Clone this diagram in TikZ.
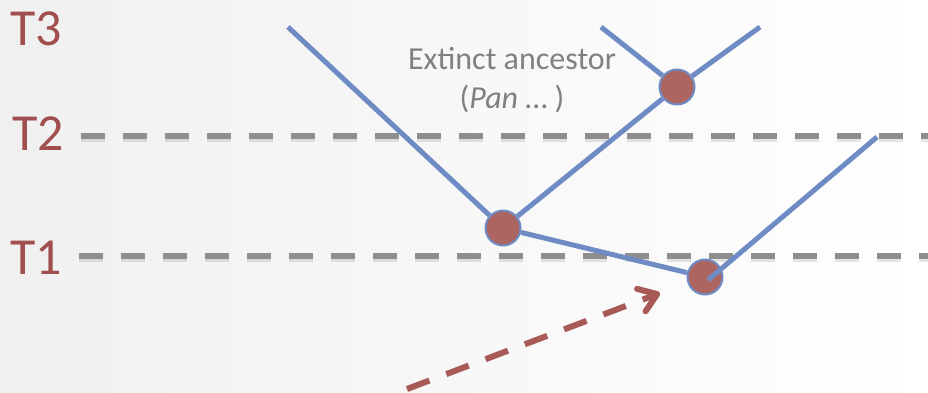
\documentclass[tikz,border=0pt]{standalone}
\usepackage{fontspec}
\setmainfont{Carlito}
\usetikzlibrary{arrows.meta}
\definecolor{timered}{HTML}{A04F4E}
\definecolor{branchblue}{HTML}{6F8BC4}
\definecolor{nodered}{HTML}{AD6562}
\definecolor{levelgray}{HTML}{8E8E8E}
\definecolor{notegray}{HTML}{808080}
\definecolor{arrowred}{HTML}{A85A57}
\tikzset{
  timelabel/.style={text=timered, font=\fontsize{52}{52}\selectfont, inner sep=0pt},
  levelline/.style={draw=levelgray, line width=6pt, dash pattern=on 24pt off 18pt},
  levelshadow/.style={draw=black, opacity=0.10, line width=7pt, dash pattern=on 24pt off 18pt},
  branch/.style={draw=branchblue, line width=5pt},
  ancestor/.style={circle, fill=nodered, draw=branchblue, line width=2pt, minimum size=35pt, inner sep=0pt},
  note/.style={text=notegray, font=\fontsize{32}{39}\selectfont, align=center, inner sep=0pt},
  migration/.style={draw=arrowred, line width=6pt, dash pattern=on 24pt off 18pt,
    -{Straight Barb[length=17pt, width=24pt, round]}},
}
\begin{document}
\begin{tikzpicture}[x=1pt, y=-1pt]
  % page and soft background
  \useasboundingbox (0,0) rectangle (928,392);
  \shade[left color=black!6, right color=white, shading angle=90] (0,0) rectangle (928,392);

  % time labels
  \node[timelabel] (t3) at (36,29) {T3};
  \node[timelabel] (t2) at (38,134) {T2};
  \node[timelabel] (t1) at (36,258) {T1};

  % time levels
  \coordinate (t2s) at (81,136);
  \coordinate (t2e) at (928,136);
  \coordinate (t1s) at (79,256);
  \coordinate (t1e) at (928,256);
  \draw[levelshadow] ([yshift=-2.5pt]t2s) -- ([yshift=-2.5pt]t2e);
  \draw[levelshadow] ([yshift=-2.5pt]t1s) -- ([yshift=-2.5pt]t1e);
  \draw[levelline] (t2s) -- (t2e);
  \draw[levelline] (t1s) -- (t1e);

  % tree nodes and tips
  \coordinate (leftTip) at (288,27);
  \coordinate (midTip) at (601,27);
  \coordinate (rightTip) at (760,27);
  \coordinate (lowTip) at (877,137);
  \node[ancestor] (A) at (503,228) {};
  \node[ancestor] (B) at (677,87) {};
  \node[ancestor] (C) at (705,277) {};

  % branches
  \draw[branch] (leftTip) -- (A);
  \draw[branch] (A) -- (B);
  \draw[branch] (B) -- (midTip);
  \draw[branch] (B) -- (rightTip);
  \draw[branch] (A) -- (C);
  \draw[branch] ([shift={(3pt,-3pt)}]C.center) -- (lowTip);

  % label
  \node[note] (label) at (512,80) {Extinct ancestor\\(\textit{Pan} … )};

  % dashed arrow
  \coordinate (arrowStart) at (407,389);
  \coordinate (arrowEnd) at (660,293);
  \draw[migration] (arrowStart) -- (arrowEnd);
\end{tikzpicture}
\end{document}
